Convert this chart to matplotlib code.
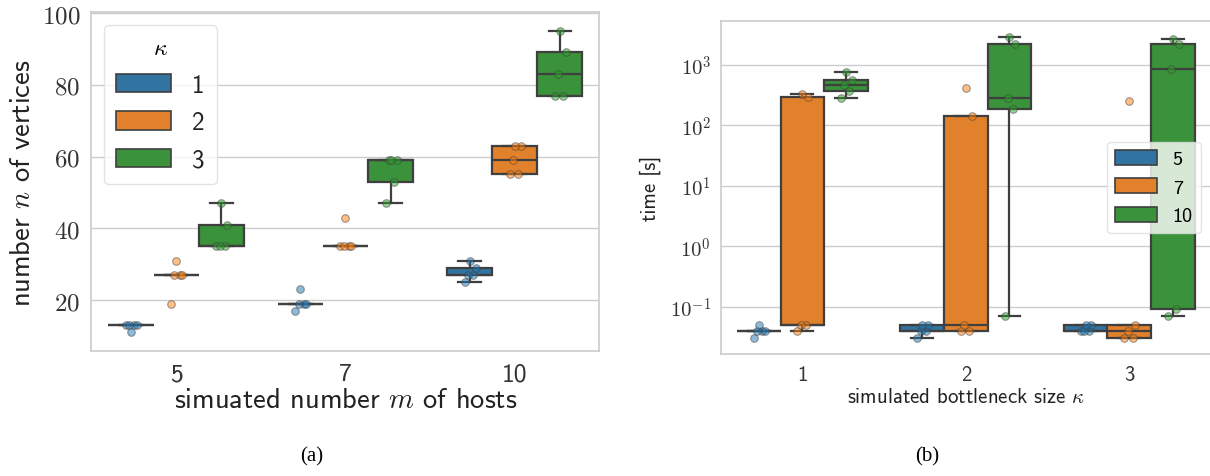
import numpy as np
import matplotlib
matplotlib.use("Agg")
import matplotlib.pyplot as plt
from matplotlib.patches import Patch
from matplotlib.ticker import FuncFormatter, FixedLocator

# (a) vertices per simulated host count m, one list per kappa
host_counts = ["5", "7", "10"]
verts_k1 = [[13, 13, 13, 13, 11], [17, 19, 19, 19, 23], [25, 27, 27, 29, 31]]
verts_k2 = [[19, 27, 27, 27, 31], [35, 35, 35, 35, 43], [55, 55, 59, 63, 63]]
verts_k3 = [[35, 35, 35, 41, 47], [47, 53, 59, 59, 59], [77, 77, 83, 89, 95]]
kappa_labels = ["1", "2", "3"]

# (b) time [s] per bottleneck size kappa, one list per m
kappas = ["1", "2", "3"]
time_m5 = [[0.03, 0.04, 0.04, 0.04, 0.05], [0.03, 0.04, 0.04, 0.05, 0.05], [0.04, 0.04, 0.04, 0.05, 0.05]]
time_m7 = [[0.04, 0.05, 0.05, 300, 330], [0.04, 0.04, 0.05, 145, 410], [0.03, 0.03, 0.04, 0.05, 250]]
time_m10 = [[285, 370, 470, 560, 765], [0.07, 190, 280, 2260, 2950], [0.07, 0.09, 850, 2200, 2700]]
m_labels = ["5", "7", "10"]

colors = ["#3274a1", "#e1812c", "#3a923a"]
point_colors = ["#1f77b4", "#ff7f0e", "#2ca02c"]
jitter = [-0.03, 0.02, -0.01, 0.035, 0.0]

plt.rcParams["font.family"] = ["cmss10", "DejaVu Sans"]
plt.rcParams["mathtext.fontset"] = "cm"
plt.rcParams["axes.unicode_minus"] = False


def style_axes(ax):
    ax.set_facecolor("white")
    for s in ax.spines.values():
        s.set_color("#cccccc")
        s.set_linewidth(1.2)
    ax.grid(axis="y", color="#cccccc", linewidth=1.0)
    ax.set_axisbelow(True)
    ax.tick_params(length=0)


def draw_groups(ax, groups):
    width = 0.8 / len(groups)
    for h, series in enumerate(groups):
        pos = np.arange(len(series)) - 0.4 + width * (h + 0.5)
        ax.boxplot(series, positions=pos, widths=width * 0.999, patch_artist=True,
                   showfliers=False, whis=1.5, manage_ticks=False,
                   capwidths=width / 2,
                   boxprops=dict(facecolor=colors[h], edgecolor="#3f3f3f", linewidth=1.6),
                   medianprops=dict(color="#3f3f3f", linewidth=1.6),
                   whiskerprops=dict(color="#3f3f3f", linewidth=1.6),
                   capprops=dict(color="#3f3f3f", linewidth=1.6))
        for i, vals in enumerate(series):
            xs = [pos[i] + jitter[k % len(jitter)] for k in range(len(vals))]
            ax.scatter(xs, vals, s=30, color=point_colors[h], alpha=0.5,
                       edgecolor="#404040", linewidth=0.8, zorder=4)


fig = plt.figure(figsize=(12.1, 4.77), dpi=100)

# ---- (a)
ax1 = fig.add_axes([0.0756, 0.2614, 0.4198, 0.7107])
style_axes(ax1)
draw_groups(ax1, [verts_k1, verts_k2, verts_k3])
ax1.set_xlim(-0.5, 2.5)
ax1.set_ylim(5.7, 100.2)
ax1.set_xticks(range(len(host_counts)))
ax1.set_xticklabels(host_counts, fontsize=18.5)
ax1.yaxis.set_major_locator(FixedLocator([20, 40, 60, 80, 100]))
ax1.yaxis.set_major_formatter(FuncFormatter(lambda v, p: f"${v:g}$"))
ax1.tick_params(axis="y", labelsize=18, pad=8, labelcolor="#333333")
ax1.tick_params(axis="x", pad=8, labelcolor="#333333")
ax1.set_xlabel("simuated number $m$ of hosts", fontsize=20.5, labelpad=1, color="#222222")
ax1.set_ylabel("number $n$ of vertices", fontsize=20.5, labelpad=5, color="#222222")
h1 = [Patch(facecolor=c, edgecolor="#3f3f3f", linewidth=1.2) for c in colors]
leg1 = ax1.legend(h1, kappa_labels, title="$\\kappa$", loc="upper left", fontsize=18,
                  title_fontsize=17, handlelength=2.2, handleheight=0.75,
                  handletextpad=0.8, labelspacing=0.58, borderpad=0.5,
                  frameon=True, fancybox=True)
leg1.get_frame().set_edgecolor("#dddddd")
for t in leg1.get_texts():
    t.set_color("#222222")

# ---- (b)
ax2 = fig.add_axes([0.5956, 0.2558, 0.4052, 0.698])
style_axes(ax2)
ax2.set_yscale("log")
draw_groups(ax2, [time_m5, time_m7, time_m10])
ax2.set_xlim(-0.5, 2.5)
ax2.set_ylim(10 ** -1.784, 10 ** 3.73)
ax2.set_xticks(range(len(kappas)))
ax2.set_xticklabels(kappas, fontsize=15)
ax2.yaxis.set_major_locator(FixedLocator([0.1, 1, 10, 100, 1000]))
ax2.yaxis.set_minor_locator(FixedLocator([]))
ax2.yaxis.set_major_formatter(FuncFormatter(lambda v, p: f"$10^{{{int(round(np.log10(v)))}}}$"))
ax2.tick_params(axis="y", labelsize=15, pad=7, labelcolor="#333333")
ax2.tick_params(axis="x", pad=8, labelcolor="#333333")
ax2.set_xlabel("simulated bottleneck size $\\kappa$", fontsize=15, labelpad=2, color="#222222")
ax2.set_ylabel("time [s]", fontsize=15, labelpad=6, color="#222222")
h2 = [Patch(facecolor=c, edgecolor="#3f3f3f", linewidth=1.2) for c in colors]
leg2 = ax2.legend(h2, m_labels, loc="center right", fontsize=14.5, handlelength=2.05,
                  handleheight=0.75, handletextpad=0.8, labelspacing=0.5,
                  borderaxespad=0.5, frameon=True, framealpha=0.8)
leg2.get_frame().set_edgecolor("#dddddd")

# captions
fig.text(0.2575, 0.032, "(a)", fontsize=15, family="Liberation Serif", ha="center")
fig.text(0.766, 0.032, "(b)", fontsize=15, family="Liberation Serif", ha="center")

fig.savefig("out.png", dpi=100)
